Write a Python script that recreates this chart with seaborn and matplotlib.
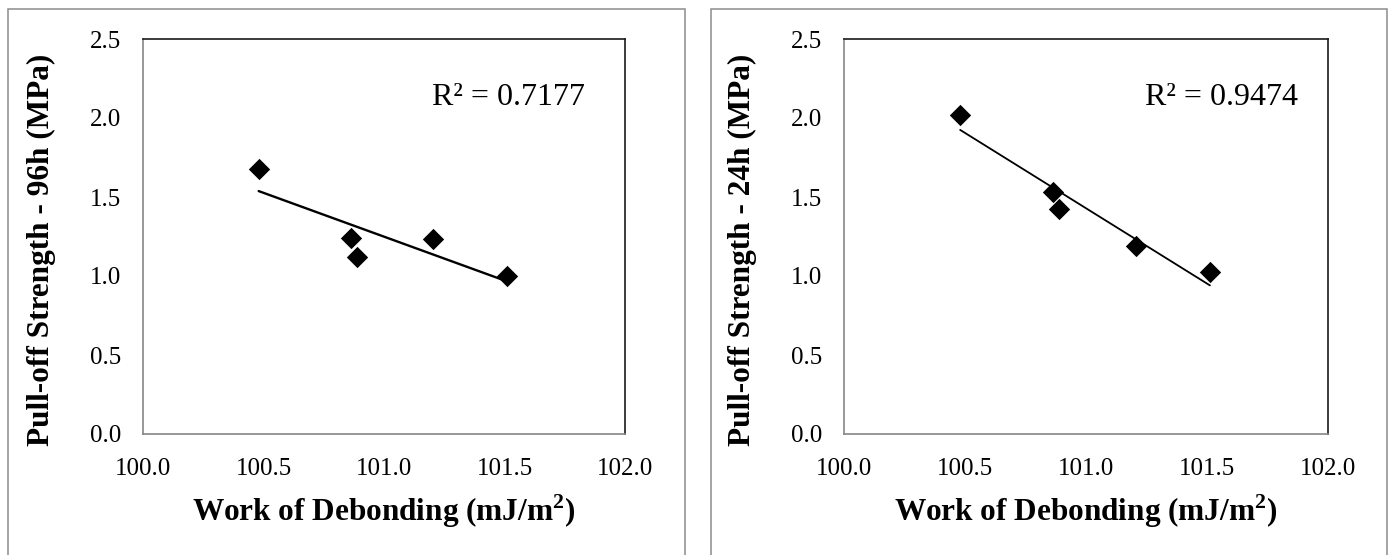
import numpy as np
import pandas as pd
import matplotlib
matplotlib.use("Agg")
import matplotlib.pyplot as plt
from matplotlib.patches import Rectangle
import seaborn as sns

# ---- data ----
work_debonding = [100.48, 100.865, 100.89, 101.205, 101.512]
pull_off_96h = [1.676, 1.238, 1.120, 1.236, 1.002]
pull_off_24h = [2.02, 1.532, 1.425, 1.187, 1.026]
r2_labels = ["R² = 0.7177", "R² = 0.9474"]
y_labels = ["Pull-off Strength - 96h (MPa)", "Pull-off Strength - 24h (MPa)"]
x_label = "Work of Debonding (mJ/m$^\\mathregular{2}$)"
x_ticks = [100.0, 100.5, 101.0, 101.5, 102.0]
y_ticks = [0.0, 0.5, 1.0, 1.5, 2.0, 2.5]

sns.set_theme(style="white")
plt.rcParams["font.family"] = ["Liberation Serif", "DejaVu Serif"]
plt.rcParams["mathtext.fontset"] = "custom"
plt.rcParams["mathtext.rm"] = "Liberation Serif:bold"
plt.rcParams["mathtext.bf"] = "Liberation Serif:bold"

W, H = 1394, 555
fig = plt.figure(figsize=(W / 100, H / 100), dpi=100)

# panel (chart area) borders
for (x0, x1) in [(8, 685), (711, 1387)]:
    fig.patches.append(Rectangle((x0 / W, -0.05), (x1 - x0) / W, (H - 9) / H + 0.05,
                                 transform=fig.transFigure, fill=False,
                                 edgecolor="#8c8c8c", linewidth=1.1, zorder=0))

axes_px = [(143, 625), (844, 1328)]
top_px, bot_px = 39, 434
series = [pull_off_96h, pull_off_24h]
line_w = [1.7, 1.3]
text_x = [101.2, 101.243]

for i, (xl, xr) in enumerate(axes_px):
    ax = fig.add_axes([xl / W, (H - bot_px) / H, (xr - xl) / W, (bot_px - top_px) / H])
    df = pd.DataFrame({"x": work_debonding, "y": series[i]})
    sns.regplot(data=df, x="x", y="y", ax=ax, scatter=False, ci=None,
                line_kws=dict(color="black", linewidth=line_w[i]))
    sns.scatterplot(data=df, x="x", y="y", ax=ax, marker="D", s=118,
                    color="black", edgecolor="black", linewidth=0, zorder=3)
    ax.set_xlim(100.0, 102.0)
    ax.set_ylim(0.0, 2.5)
    ax.set_xticks(x_ticks)
    ax.set_yticks(y_ticks)
    ax.set_xticklabels([f"{v:.1f}" for v in x_ticks], fontsize=18)
    ax.set_yticklabels([f"{v:.1f}" for v in y_ticks], fontsize=18)
    ax.tick_params(axis="both", length=0, colors="black")
    ax.tick_params(axis="x", pad=17)
    ax.tick_params(axis="y", pad=16)
    for s in ["left", "bottom"]:
        ax.spines[s].set_color("#868686")
        ax.spines[s].set_linewidth(1.2)
    for s in ["top", "right"]:
        ax.spines[s].set_color("#1a1a1a")
        ax.spines[s].set_linewidth(1.2)
    ax.set_xlabel(x_label, fontsize=22.5, fontweight="bold", color="black")
    ax.set_ylabel(y_labels[i], fontsize=22.5, fontweight="bold", color="black")
    ax.xaxis.set_label_coords(0.5, -0.195)
    ax.xaxis.label.set_va("center")
    ax.yaxis.set_label_coords(-0.21, 0.465)
    ax.yaxis.label.set_va("center")
    ax.yaxis.label.set_ha("center")
    ax.text(text_x[i], 2.13, r2_labels[i], fontsize=23, color="black",
            ha="left", va="center")

fig.savefig("out.png", dpi=100)
